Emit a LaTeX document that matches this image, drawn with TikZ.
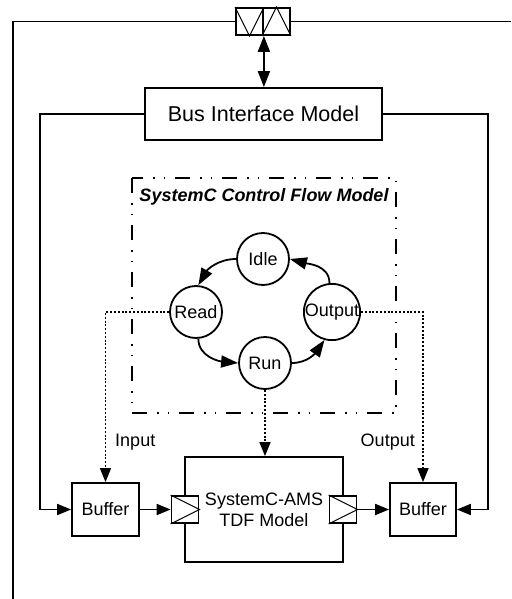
\documentclass[tikz,border=0pt]{standalone}
\usepackage{fontspec}
\setmainfont{Liberation Sans}
\usetikzlibrary{arrows.meta}
\begin{document}
\begin{tikzpicture}[x=1pt,y=1pt,line width=1.8pt,
  txt/.style={font=\fontsize{18}{21}\selectfont},
  box/.style={draw,inner sep=0pt,txt},
  state/.style={draw,circle,inner sep=0pt,minimum size=52pt,txt},
  port/.style={draw,fill=white,inner sep=0pt,minimum size=27pt},
  arr/.style={-{Triangle[length=14pt,width=11pt]}},
  carr/.style={-{Triangle[length=17pt,width=12pt]}},
  dots/.style={dash pattern=on 2pt off 1.8pt,line width=1.5pt},
  dashdot/.style={line width=2pt,dash pattern=on 15pt off 10pt on 1.5pt off 9pt on 1.5pt off 10pt}
]
\useasboundingbox (0,0) rectangle (511,-599);
% top ports
\node[port] (pL) at (249.5,-21.5) {};
\node[port] (pR) at (276.5,-21.5) {};
\draw[line width=1pt] (pL.north west) -- (pL.south) -- (pL.north east);
\draw[line width=1pt] (pR.south west) -- (pR.north) -- (pR.south east);
\coordinate (tl) at (13,-21.5);
\coordinate (bl) at (13,-599);
\coordinate (tr) at (511,-21.5);
\draw (pL.west) -- (tl) -- (bl);
\draw (pR.east) -- (tr);
% bus interface
\node[box,minimum width=237pt,minimum height=52pt,font=\fontsize{21.5}{24}\selectfont] (bus) at (263.5,-114) {Bus Interface Model};
\draw[{Triangle[length=16pt,width=12pt]}-{Triangle[length=16pt,width=12pt]}] (pL.south east) -- (pL.south east |- bus.north);
% control flow frame
\draw[dashdot] (132,-178) rectangle (396,-413);
\node[txt,font=\fontsize{18}{21}\selectfont\bfseries\itshape] (title) at (264,-197) {SystemC Control Flow Model};
% states
\node[state] (idle) at (263,-259) {Idle};
\node[state] (read) at (196,-312) {Read};
\node[state,minimum size=55pt] (out) at (332,-312) {Output};
\node[state] (run) at (265,-363) {Run};
\draw[carr] (idle.west) to[out=180,in=60] (read.85);
\draw[carr] (read.-85) to[out=-90,in=175] (run.west);
\draw[carr] (run.east) to[out=0,in=-125] (out.-105);
\draw[carr] (out.95) to[out=90,in=-15] (idle.east);
% lower blocks
\node[box,minimum width=67pt,minimum height=53pt] (lbuf) at (105.5,-509.5) {Buffer};
\node[box,minimum width=66pt,minimum height=53pt] (rbuf) at (423,-509.5) {Buffer};
\node[box,minimum width=158pt,minimum height=105pt,align=center] (tdf) at (264,-509.5) {SystemC-AMS\\TDF Model};
\node[port] (lport) at (185,-509.5) {};
\node[port] (rport) at (343,-509.5) {};
\draw[line width=1pt] (lport.north west) -- (lport.east) -- (lport.south west);
\draw[line width=1pt] (rport.north west) -- (rport.east) -- (rport.south west);
\draw[arr] (lbuf.east) -- (lport.west);
\draw[arr] (rport.east) -- (rbuf.west);
% bus side lines
\coordinate (lc) at (40,-114);
\coordinate (rc) at (488,-114);
\draw[arr] (bus.west) -- (lc) |- (lbuf.west);
\draw[arr] (bus.east) -- (rc) |- (rbuf.east);
% dotted connections
\draw[dots,arr] (read.west) -| (lbuf.north);
\draw[dots,arr] (out.east) -| (rbuf.north);
\draw[dots,arr] (run.south) -- (run.south |- tdf.north);
\node[txt,anchor=west] (inl) at (111,-442) {Input};
\node[txt,anchor=east] (outl) at (419,-442) {Output};
\end{tikzpicture}
\end{document}
